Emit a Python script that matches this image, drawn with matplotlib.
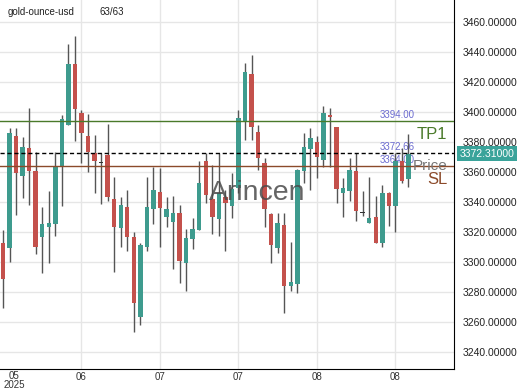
import matplotlib.pyplot as plt

# =========================
# データ
# =========================
opens = [3312.5, 3309.1, 3384.0, 3357.3, 3375.8, 3360.9, 3316.5, 3323.1, 3325.3, 3363.6,
         3391.3, 3432.0, 3399.1, 3384.0, 3372.5, 3366.4, 3371.3, 3341.8, 3322.5, 3336.5,
         3316.9, 3263.1, 3310.2, 3335.1, 3346.9, 3329.8, 3326.9, 3332.5, 3299.5, 3315.1,
         3321.3, 3367.5, 3341.8, 3328.5, 3343.5, 3337.3, 3349.1, 3394.2, 3425.3, 3386.9,
         3366.2, 3332.0, 3309.1, 3324.7, 3284.0, 3285.3, 3360.9, 3375.1, 3380.2, 3368.0,
         3398.0, 3389.8, 3346.2, 3347.5, 3360.9, 3332.7, 3326.2, 3329.8, 3312.9, 3345.8,
         3337.3, 3367.5, 3355.1]
highs = [3321.3, 3389.1, 3389.1, 3383.6, 3402.4, 3373.5, 3336.5, 3347.5, 3373.5, 3398.0,
         3445.3, 3450.7, 3401.3, 3399.0, 3384.7, 3372.5, 3392.0, 3356.5, 3343.5, 3348.0,
         3320.2, 3312.5, 3356.5, 3363.6, 3362.5, 3343.5, 3344.0, 3338.0, 3321.8, 3329.1,
         3367.5, 3372.9, 3364.7, 3372.9, 3348.0, 3359.1, 3401.3, 3432.9, 3438.0, 3391.3,
         3369.1, 3332.9, 3332.5, 3332.5, 3313.5, 3361.8, 3385.8, 3389.1, 3384.0, 3404.0,
         3402.4, 3390.2, 3355.8, 3369.1, 3372.9, 3347.5, 3356.9, 3344.0, 3351.3, 3346.9,
         3372.5, 3375.8, 3385.3]
lows = [3269.3, 3300.2, 3331.3, 3342.4, 3338.0, 3305.3, 3292.9, 3299.5, 3317.3, 3337.5,
        3391.3, 3380.9, 3365.8, 3360.2, 3345.8, 3338.7, 3340.9, 3293.5, 3309.8, 3307.5,
        3253.5, 3258.0, 3307.5, 3325.3, 3310.2, 3323.5, 3295.1, 3285.8, 3280.9, 3308.5,
        3321.3, 3339.1, 3318.7, 3317.3, 3307.5, 3329.1, 3345.8, 3381.3, 3381.3, 3361.3,
        3323.1, 3299.5, 3305.8, 3266.2, 3280.9, 3279.1, 3352.5, 3348.0, 3355.8, 3363.6,
        3363.6, 3339.5, 3330.2, 3340.9, 3327.5, 3330.7, 3325.8, 3312.5, 3310.2, 3324.0,
        3320.2, 3352.5, 3350.2]
closes = [3288.5, 3385.8, 3359.1, 3376.4, 3360.9, 3309.8, 3325.3, 3326.2, 3364.0, 3395.1,
          3432.0, 3401.8, 3385.8, 3373.5, 3367.6, 3366.0, 3343.5, 3323.1, 3338.0, 3316.5,
          3272.9, 3311.3, 3336.9, 3348.0, 3335.8, 3335.1, 3332.9, 3300.9, 3315.8, 3321.8,
          3352.9, 3344.7, 3330.2, 3345.8, 3339.1, 3348.4, 3395.8, 3426.9, 3389.8, 3369.1,
          3335.1, 3311.3, 3326.2, 3284.0, 3286.9, 3361.3, 3376.4, 3382.5, 3369.8, 3399.1,
          3396.7, 3348.4, 3349.1, 3361.3, 3334.2, 3332.4, 3329.1, 3312.9, 3345.8, 3337.3,
          3367.5, 3354.2, 3372.3]

tick_pos = [12, 24, 36, 48, 60]
tick_labels = ["06", "07", "07", "08", "08"]
first_label = "05\n2025"

y_ticks = [3240, 3260, 3280, 3300, 3320, 3340, 3360, 3380, 3400, 3420, 3440, 3460]

tp1 = 3394.00
price = 3372.66
sl = 3364.00
last_price = 3372.31

# =========================
# グラフ
# =========================
plt.rcParams['font.family'] = ['Liberation Sans', 'DejaVu Sans']

fig = plt.figure(figsize=(5.2, 3.9), dpi=100)
ax = fig.add_axes([0.0, 0.054, 454 / 520, 0.946])

up_color = "#3e9b8e"
down_color = "#c4514c"

x = list(range(len(opens)))
colors = []
for o, c in zip(opens, closes):
    if abs(c - o) < 0.5:
        colors.append("#333333")
    elif c >= o:
        colors.append(up_color)
    else:
        colors.append(down_color)

ax.vlines(x, lows, highs, color="#555555", linewidth=1.0, zorder=3)
bottoms = [min(o, c) for o, c in zip(opens, closes)]
heights = [max(abs(c - o), 0.8) for o, c in zip(opens, closes)]
ax.bar(x, heights, bottom=bottoms, width=0.68, color=colors, zorder=4)

# ライン
ax.axhline(tp1, color="#4a7a2a", linewidth=1.0, zorder=5)
ax.axhline(price, color="black", linewidth=1.0, linestyle=(0, (3, 2)), zorder=5)
ax.axhline(sl, color="#8b4a2a", linewidth=1.0, zorder=5)

# ラベル（ローソク足の後ろ）
lbl_kw = dict(fontsize=7, color="#6b6bd0", ha="left", va="bottom", zorder=2)
ax.text(57.6, tp1 + 1.0, f"{tp1:.2f}", **lbl_kw)
ax.text(57.6, price + 1.0, f"{price:.2f}", **lbl_kw)
ax.text(57.6, sl + 1.0, f"{sl:.2f}", **lbl_kw)

ax.text(67.9, 3385.3, "TP1", fontsize=12, color="#4a7a2a", ha="right", va="center", zorder=6)
ax.text(67.9, 3364.0, "Price", fontsize=11, color="#777777", ha="right", va="center", zorder=6)
ax.text(67.9, 3354.7, "SL", fontsize=12, color="#8b4a2a", ha="right", va="center", zorder=6)

# ウォーターマーク
ax.text(38.8, 3346, "Arincen", fontsize=20.5, color="#4a4a4a", alpha=0.85,
        ha="center", va="center", zorder=6)

# 軸
ax.set_xlim(-0.46, 68.96)
ax.set_ylim(3228.7, 3474.7)
ax.yaxis.tick_right()
ax.set_yticks(y_ticks)
ax.set_yticklabels([f"{v:.5f}" for v in y_ticks])
ax.tick_params(axis="y", length=0, pad=6, labelsize=7.5, colors="#222222")
ax.set_xticks(tick_pos)
ax.set_xticklabels(tick_labels)
ax.tick_params(axis="x", length=0, pad=2, labelsize=7, colors="#333333")
ax.text(1.7, 3228.7 - 1.5, first_label, fontsize=7, color="#333333",
        ha="center", va="top", linespacing=0.85)
ax.grid(True, color="#e6e6e6", linewidth=1.0, zorder=0)
ax.set_axisbelow(True)

for side in ["top", "left"]:
    ax.spines[side].set_visible(False)
ax.spines["right"].set_color("black")
ax.spines["bottom"].set_color("black")

# 現在値ボックス
ax.annotate(f"{last_price:.5f}", xy=(1.0, last_price), xycoords=("axes fraction", "data"),
            xytext=(4, 0), textcoords="offset points", fontsize=7.5, color="white",
            ha="left", va="center",
            bbox=dict(boxstyle="square,pad=0.2", facecolor="#3aa39a", edgecolor="none"))

# タイトル
fig.text(8 / 520, 1 - 12 / 390, "gold-ounce-usd", fontsize=7, color="#222222", va="center")
fig.text(100 / 520, 1 - 12 / 390, "63/63", fontsize=7, color="#222222", va="center")

fig.savefig("out.png", dpi=100)
